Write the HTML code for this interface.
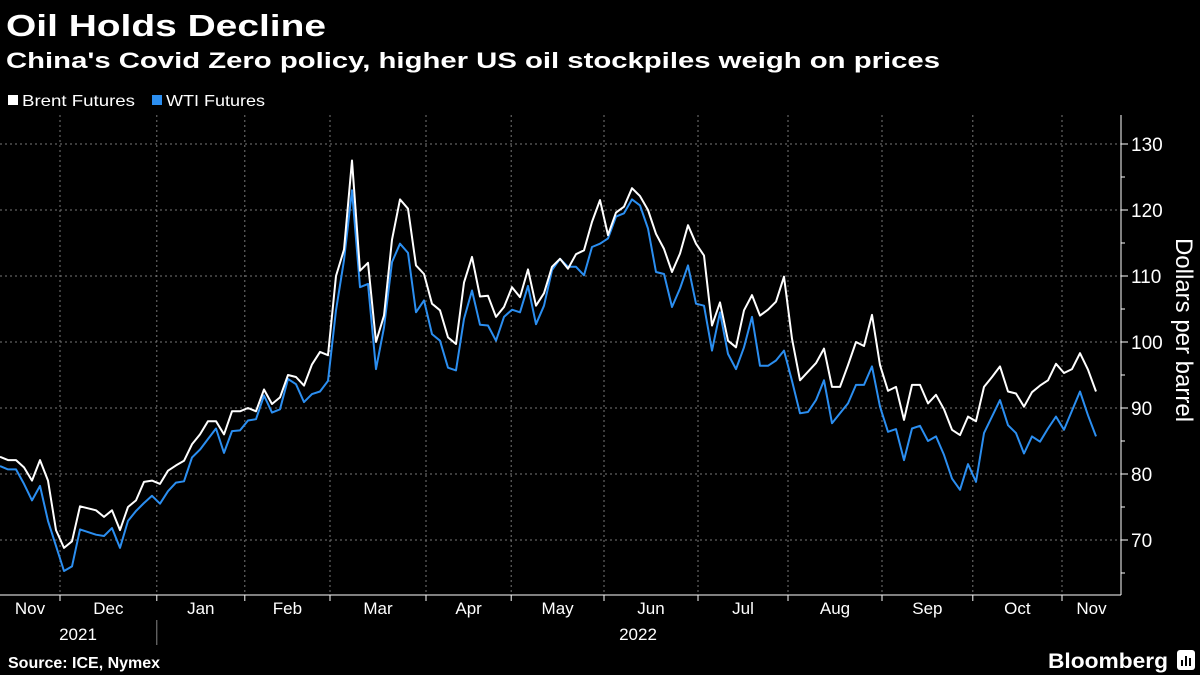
<!DOCTYPE html>
<html><head><meta charset="utf-8">
<style>
html,body{margin:0;padding:0;background:#000;}
svg{display:block;}
text{font-family:"Liberation Sans",sans-serif;fill:#fff;}
</style></head>
<body>
<svg id="chart" width="1200" height="675" viewBox="0 0 1200 675">
  <text x="6" y="36" font-size="31" font-weight="bold" textLength="320" lengthAdjust="spacingAndGlyphs">Oil Holds Decline</text>
  <text x="6" y="68" font-size="22" font-weight="bold" textLength="934" lengthAdjust="spacingAndGlyphs">China's Covid Zero policy, higher US oil stockpiles weigh on prices</text>
  <g>
    <rect x="8" y="95" width="10" height="10" fill="#ffffff"/>
    <text x="22" y="106" font-size="16" textLength="113" lengthAdjust="spacingAndGlyphs">Brent Futures</text>
    <rect x="152" y="95" width="10" height="10" fill="#2b8ef0"/>
    <text x="166" y="106" font-size="16" textLength="99" lengthAdjust="spacingAndGlyphs">WTI Futures</text>
  </g>
  <g id="grid"></g>
  <g id="axes"></g>
  <g id="series"></g>
  <text transform="translate(1176,330) rotate(90)" text-anchor="middle" font-size="24">Dollars per barrel</text>
  <text x="8" y="668" font-size="16" font-weight="bold">Source: ICE, Nymex</text>
  <text x="1168" y="668" font-size="21" font-weight="bold" text-anchor="end" textLength="120" lengthAdjust="spacingAndGlyphs">Bloomberg</text>
  <g>
    <rect x="1177" y="650" width="18" height="20" rx="3" fill="#fff"/>
    <rect x="1181" y="660" width="2" height="6" fill="#000"/>
    <rect x="1185" y="656" width="2" height="10" fill="#000"/>
    <rect x="1189" y="658" width="2" height="8" fill="#000"/>
  </g>
</svg>
<script>
const brent = [82.6,82.1,82.1,81,79,82.1,79,71.5,68.8,69.8,75.1,74.8,74.5,73.5,74.5,71.5,75,76,78.8,79,78.5,80.5,81.3,82,84.5,86,88,88,86,89.5,89.5,90,89.5,92.8,90.6,91.6,95,94.7,93.4,96.6,98.5,98,110,114,127.5,110.8,112,100,104,115.5,121.6,
120.2,111.6,110.3,105.8,104.8,100.7,99.7,109,112.9,106.9,107,103.8,105.3,108.3,106.8,111,105.5,107.4,111.4,112.6,111.1,113.3,113.9,118.2,121.5,116.2,119.6,120.5,123.3,122.1,120,116.4,114.1,110.6,113.4,117.7,114.9,113.1,102.5,106,100.2,99.2,104.8,107.1,104,
104.9,106.1,109.9,100.5,94.2,95.5,96.8,99,93.2,93.2,96.5,100,99.4,104.1,96.5,92.6,93.2,88.2,93.5,93.5,90.7,92,89.8,86.7,85.9,88.7,88,93.2,94.7,96.3,92.5,92.2,90.2,92.4,93.4,94.2,96.7,95.3,95.9,98.3,95.8,92.5];
const wti = [81.2,80.7,80.7,78.5,76,78.2,72.9,69.1,65.3,66,71.6,71.2,70.8,70.6,71.8,68.8,72.9,74.4,75.6,76.7,75.5,77.4,78.7,78.9,82.5,83.7,85.3,86.9,83.2,86.5,86.6,88.1,88.3,91.9,89.3,89.8,94.4,93.6,90.9,92.1,92.5,94.1,104.8,112.4,123,108.3,108.8,95.9,102.2,112.1,114.9,
113.5,104.5,106.3,101.2,100.2,96.1,95.7,103.5,107.8,102.6,102.5,100.2,103.8,104.9,104.5,108.5,102.7,105.5,110.9,112.6,111.4,111.4,110.1,114.4,114.9,115.7,119,119.5,121.6,120.7,117.2,110.6,110.3,105.3,108.1,111.6,105.8,105.5,98.7,104.5,98.2,95.9,99.2,103.8,96.4,
96.4,97.2,98.7,94.1,89.2,89.4,91.2,94.2,87.7,89.2,90.7,93.5,93.5,96.3,90.2,86.4,86.8,82.1,86.9,87.3,85,85.7,82.9,79.3,77.6,81.5,78.8,86.2,88.7,91.2,87.4,86.2,83.1,85.7,84.9,86.9,88.7,86.7,89.6,92.5,88.9,85.7];
const monthLabels = ["Nov","Dec","Jan","Feb","Mar","Apr","May","Jun","Jul","Aug","Sep","Oct","Nov"];
const monthTicks = [7.5,19.6,30.6,41.25,53.25,63.9,75.5,87.25,98.5,110.25,121.6,132.75];
const yTicks = [70,80,90,100,110,120,130];
const yLabels = ["70","80","90","100","110","120","130"];

const NS = "http://www.w3.org/2000/svg";
const X0 = 0, X1 = 1096, AXIS_X = 1121, TOP = 115, BOTTOM = 595;
const n = brent.length;
function xScale(i){ return X0 + i * (X1 - X0) / (n - 1); }
function yScale(v){ return 144 + (130 - v) * 6.6; }
function mk(tag, attrs, parent){
  const e = document.createElementNS(NS, tag);
  for (const k in attrs) e.setAttribute(k, attrs[k]);
  parent.appendChild(e);
  return e;
}
const grid = document.getElementById('grid');
const axes = document.getElementById('axes');
const series = document.getElementById('series');

yTicks.forEach((v, i) => {
  const y = yScale(v);
  const g = mk('line', {x1:0, x2:AXIS_X, y1:y, y2:y, stroke:'#777', 'stroke-width':1, 'stroke-dasharray':'2,3'}, grid);
  
  
  const t = mk('line', {x1:AXIS_X, x2:AXIS_X+7, y1:y, y2:y, stroke:'#fff', 'stroke-width':1}, axes);
  
  
  const lab = mk('text', {x:AXIS_X+10, y:y+7, 'font-size':19}, axes);
  lab.textContent = yLabels[i];
  
  
});
for (let v = 65; v <= 125; v += 10) {
  const y = yScale(v);
  const m = mk('line', {x1:AXIS_X, x2:AXIS_X+4, y1:y, y2:y, stroke:'#fff', 'stroke-width':1}, axes);
  
  
}
const ax = mk('line', {x1:AXIS_X, x2:AXIS_X, y1:TOP, y2:BOTTOM, stroke:'#fff', 'stroke-width':1}, axes);


const bx = mk('line', {x1:0, x2:AXIS_X, y1:BOTTOM, y2:BOTTOM, stroke:'#fff', 'stroke-width':1}, axes);



const tickX = monthTicks.map(xScale);
tickX.forEach(x => {
  const g = mk('line', {x1:x, x2:x, y1:TOP, y2:BOTTOM, stroke:'#777', 'stroke-width':1, 'stroke-dasharray':'2,3'}, grid);
  
  
  const t = mk('line', {x1:x, x2:x, y1:BOTTOM, y2:BOTTOM+6, stroke:'#fff', 'stroke-width':1}, axes);
  
  
});
const bounds = [0].concat(tickX).concat([AXIS_X]);
monthLabels.forEach((m, i) => {
  const cx = (bounds[i] + bounds[i+1]) / 2;
  const t = mk('text', {x:cx, y:614, 'font-size':17, 'text-anchor':'middle'}, axes);
  t.textContent = m;
  
  
});
const y1 = mk('text', {x:78, y:640, 'font-size':17, 'text-anchor':'middle'}, axes);
y1.textContent = '2021';


const y2 = mk('text', {x:638, y:640, 'font-size':17, 'text-anchor':'middle'}, axes);
y2.textContent = '2022';


const sep = mk('line', {x1:tickX[1], x2:tickX[1], y1:620, y2:645, stroke:'#888', 'stroke-width':1}, axes);



function path(vals){ return vals.map((v,i)=>(i?'L':'M')+xScale(i).toFixed(1)+','+yScale(v).toFixed(1)).join(''); }
const wl = mk('path', {d:path(wti), fill:'none', stroke:'#2b8ef0', 'stroke-width':2, 'stroke-linejoin':'round'}, series);


const bl = mk('path', {d:path(brent), fill:'none', stroke:'#ffffff', 'stroke-width':2, 'stroke-linejoin':'round'}, series);


</script>
</body></html>
